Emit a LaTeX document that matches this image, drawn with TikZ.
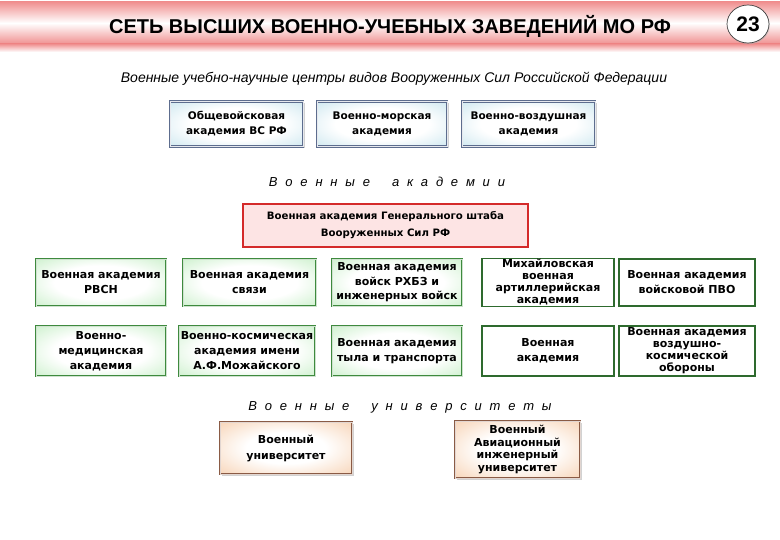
\documentclass[tikz,border=0pt]{standalone}
\usepackage{fontspec}
\setmainfont{DejaVu Sans}
\newfontfamily\lsans{Liberation Sans}
\usetikzlibrary{shadows,shapes.geometric}
\definecolor{hpink}{HTML}{F09090}
\definecolor{bluebd}{HTML}{5D6D8E}
\definecolor{blueedge}{HTML}{A9D6E4}
\definecolor{greenbd}{HTML}{3E8A3E}
\definecolor{greenedge}{HTML}{A8E6A8}
\definecolor{greendk}{HTML}{2E6A2E}
\definecolor{brownbd}{HTML}{8A5B45}
\definecolor{brownedge}{HTML}{F2B888}
\definecolor{redbd}{HTML}{D42A2A}
\definecolor{redfill}{HTML}{FDE4E4}
\pgfdeclareradialshading{glowblue}{\pgfpoint{0bp}{0bp}}{color(0bp)=(white); color(18bp)=(white); color(50bp)=(blueedge); color(80bp)=(blueedge)}
\pgfdeclareradialshading{glowgreen}{\pgfpoint{0bp}{0bp}}{color(0bp)=(white); color(18bp)=(white); color(50bp)=(greenedge); color(80bp)=(greenedge)}
\pgfdeclareradialshading{glowbrown}{\pgfpoint{0bp}{0bp}}{color(0bp)=(white); color(15bp)=(white); color(50bp)=(brownedge); color(80bp)=(brownedge)}
\tikzset{
  boxtxt/.style={align=center, inner sep=1pt, font=\bfseries\fontsize{11}{15}\selectfont},
  four/.style={font=\bfseries\fontsize{11}{12}\selectfont},
  bluebox/.style={boxtxt, shade, shading=glowblue, draw=bluebd, line width=0.9pt, double=white!85!bluebd, double distance=0.8pt,
    drop shadow={shadow xshift=1.5pt, shadow yshift=-2pt, fill=gray!70}, font=\bfseries\fontsize{10.5}{15}\selectfont},
  redbox/.style={boxtxt, fill=redfill, draw=redbd, line width=1.8pt, font=\bfseries\fontsize{10.2}{17}\selectfont},
  gbox/.style={boxtxt, shade, shading=glowgreen, draw=greenbd, line width=0.8pt, double=white!75!greenbd, double distance=0.8pt,
    drop shadow={shadow xshift=1.2pt, shadow yshift=-1.2pt, fill=greendk}},
  wbox/.style={boxtxt, fill=white, draw=greendk, line width=1.6pt},
  ubox/.style={boxtxt, shade, shading=glowbrown, draw=brownbd, line width=0.8pt, double=white!75!brownbd, double distance=0.8pt,
    drop shadow={shadow xshift=1.5pt, shadow yshift=-1.5pt, fill=gray!70}},
  spaced/.style={font=\lsans\itshape\fontsize{13}{15}\selectfont, inner sep=0pt}
}
\begin{document}
\begin{tikzpicture}[x=1pt,y=-1pt]
\useasboundingbox (0,0) rectangle (780,540);
\fill[white] (0,0) rectangle (780,540);
% header band
\shade[top color=hpink, bottom color=hpink, middle color=white] (0,2) rectangle (780,44);
\shade[top color=hpink, bottom color=white] (0,44) rectangle (780,52);
\node[inner sep=0pt, font=\lsans\bfseries\fontsize{20}{22}\selectfont] (title) at (390,26)
  {СЕТЬ ВЫСШИХ ВОЕННО-УЧЕБНЫХ ЗАВЕДЕНИЙ МО РФ};
\node[ellipse, draw=black!75, line width=0.7pt, fill=white, minimum width=42pt, minimum height=38pt, inner sep=0pt,
  drop shadow={shadow xshift=0.8pt, shadow yshift=-1.2pt, fill=gray!60},
  font=\lsans\bfseries\fontsize{21}{22}\selectfont] (num) at (748,24) {23};
% subtitle
\node[inner sep=0pt, font=\lsans\itshape\fontsize{14}{16}\selectfont] (sub) at (394,79)
  {Военные учебно-научные центры видов Вооруженных Сил Российской Федерации};
% top row
\node[bluebox, minimum width=133pt, minimum height=45pt] (ob) at (236.5,124) {Общевойсковая\\академия ВС РФ};
\node[bluebox, minimum width=130pt, minimum height=45pt] (vm) at (382,124) {Военно-морская\\академия};
\node[bluebox, minimum width=133pt, minimum height=45pt] (vv) at (528.5,124) {Военно-воздушная\\академия};
% academies label
\node[spaced] (acad) at (387,182) {\spaceskip=7.8pt В о е н н ы е\hspace{22pt}а к а д е м и и};
% general staff
\node[redbox, minimum width=285pt, minimum height=43pt] (gs) at (385.5,225.5)
  {Военная академия Генерального штаба\\Вооруженных Сил РФ};
% row 1
\node[gbox, minimum width=130pt, minimum height=47pt] (rvsn) at (101,282.5) {Военная академия\\РВСН};
\node[gbox, minimum width=133pt, minimum height=47pt] (sv) at (249.5,282.5) {Военная академия\\связи};
\node[gbox, minimum width=130pt, minimum height=47pt, font=\bfseries\fontsize{11}{14.5}\selectfont] (rhbz) at (397,282.5) {Военная академия\\войск РХБЗ и\\инженерных войск};
\node[wbox, four, minimum width=132pt, minimum height=47pt] (mva) at (548,282.5) {Михайловская\\военная\\артиллерийская\\академия};
\node[wbox, minimum width=136pt, minimum height=47pt] (pvo) at (687,282.5) {Военная академия\\войсковой ПВО};
% row 2
\node[gbox, minimum width=130pt, minimum height=50pt] (med) at (101,351) {Военно-\\медицинская\\академия};
\node[gbox, minimum width=136pt, minimum height=50pt] (vka) at (247,351) {Военно-космическая\\академия имени\\А.Ф.Можайского};
\node[gbox, minimum width=130pt, minimum height=50pt] (tyl) at (397,351) {Военная академия\\тыла и транспорта};
\node[wbox, minimum width=132pt, minimum height=50pt] (va) at (548,351) {Военная\\академия};
\node[wbox, four, minimum width=136pt, minimum height=50pt] (vko) at (687,351) {Военная академия\\воздушно-\\космической\\обороны};
% universities label
\node[spaced] (univ) at (400,407) {\spaceskip=7.8pt В о е н н ы е\hspace{22pt}у н и в е р с и т е т ы};
% universities
\node[ubox, minimum width=132pt, minimum height=52pt, font=\bfseries\fontsize{11}{16}\selectfont] (vu) at (286,448) {Военный\\университет};
\node[ubox, four, minimum width=125pt, minimum height=57pt, font=\bfseries\fontsize{11}{12.7}\selectfont] (vaiu) at (517.5,449.5)
  {Военный\\Авиационный\\инженерный\\университет};
\end{tikzpicture}
\end{document}
